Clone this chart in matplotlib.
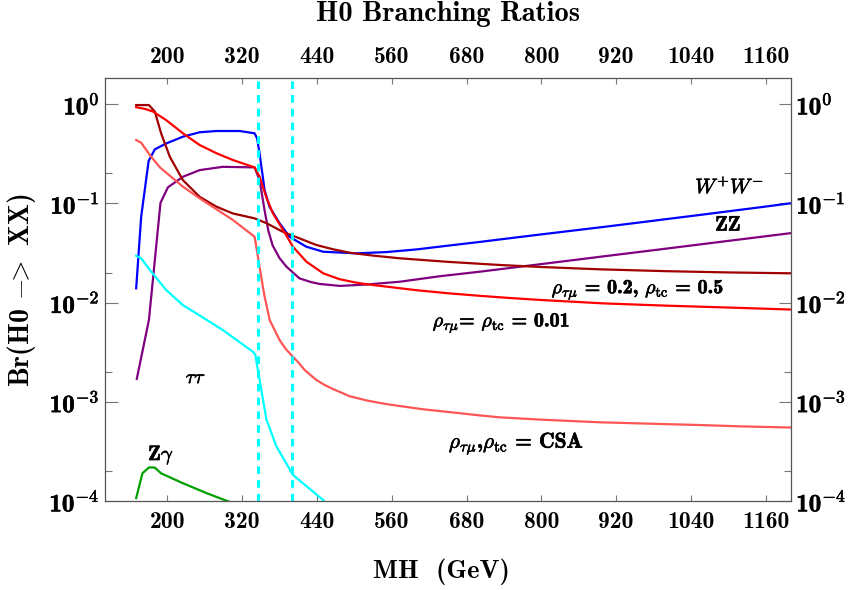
import math
import matplotlib
matplotlib.use("Agg")
import matplotlib.pyplot as plt
import matplotlib.patheffects as pe
from matplotlib.ticker import LogLocator, FixedLocator, FuncFormatter, NullFormatter

plt.rcParams['mathtext.fontset'] = 'cm'
plt.rcParams['font.family'] = ['cmb10', 'DejaVu Serif']
plt.rcParams['axes.unicode_minus'] = False

# H0 -> W+W-
ww_x = [150, 158, 170, 180, 198, 225, 252, 279, 316, 340, 344, 348, 356, 364, 380, 396,
        423, 450, 503, 550, 600, 650, 700, 750, 800, 850, 900, 950, 1000, 1050, 1100,
        1150, 1200]
ww_y = [0.0139, 0.073, 0.267, 0.35, 0.40, 0.469, 0.52, 0.535, 0.535, 0.507, 0.45, 0.318,
        0.136, 0.092, 0.063, 0.046, 0.0365, 0.0325, 0.0313, 0.0322, 0.0343, 0.0374, 0.0407,
        0.0445, 0.0486, 0.0530, 0.0578, 0.0632, 0.0692, 0.0757, 0.0830, 0.0910, 0.100]

# H0 -> ZZ
zz_x = [151, 170.5, 189, 201, 225, 252, 289, 340, 348, 356, 362, 369, 380, 391, 412,
        430, 444, 477, 520, 573, 637, 700, 800, 900, 1000, 1100, 1200]
zz_y = [0.0017, 0.0067, 0.101, 0.145, 0.185, 0.216, 0.233, 0.230, 0.171, 0.085, 0.053,
        0.0375, 0.028, 0.023, 0.0175, 0.0161, 0.0154, 0.0147, 0.0152, 0.0162, 0.0184,
        0.0204, 0.0244, 0.0292, 0.0349, 0.0418, 0.050]

# total width for rho_tau_mu = 0.2, rho_tc = 0.5 and 0.01
rho1_x = [150, 165, 177, 198, 225, 252, 279, 305, 340, 348, 359, 369.5, 385.5, 401.5,
          423, 450, 476, 500, 519, 550, 600, 650, 700, 750, 800, 900, 1000, 1100, 1200]
rho1_y = [0.93, 0.89, 0.84, 0.69, 0.507, 0.386, 0.319, 0.273, 0.230, 0.185, 0.114, 0.079,
          0.054, 0.0365, 0.0258, 0.0197, 0.0172, 0.0160, 0.0153, 0.0145, 0.0133, 0.0124,
          0.0117, 0.0111, 0.0106, 0.0098, 0.0093, 0.0089, 0.0085]

rho2_x = [150, 170.5, 180, 190, 204, 225, 252, 279, 305, 340, 359, 385, 412, 439, 465,
          492, 530, 573, 650, 733, 800, 894, 1000, 1100, 1200]
rho2_y = [0.977, 0.977, 0.837, 0.507, 0.294, 0.171, 0.116, 0.0923, 0.079, 0.0705, 0.063,
          0.0517, 0.0443, 0.038, 0.0345, 0.0318, 0.0297, 0.0279, 0.0257, 0.0239, 0.0228,
          0.0216, 0.0207, 0.0201, 0.0197]

# couplings from the CSA
csa_x = [150, 158, 172, 188, 225, 252, 305, 340, 348, 352, 356, 359, 364, 372, 380, 390,
         401.5, 410, 420, 430, 439, 452, 465, 480, 492, 520, 550, 573, 610, 650, 700, 733,
         800, 894, 1000, 1054, 1120, 1200]
csa_y = [0.434, 0.408, 0.306, 0.23, 0.147, 0.112, 0.068, 0.046, 0.023, 0.016, 0.0115,
         0.0095, 0.0067, 0.0053, 0.0042, 0.0034, 0.00284, 0.0025, 0.0021, 0.00185, 0.00166,
         0.00148, 0.00135, 0.00123, 0.00114, 0.00103, 0.00095, 0.000906, 0.00084, 0.00079,
         0.00073, 0.000697, 0.00066, 0.000621, 0.000595, 0.000583, 0.000565, 0.00055]

# H0 -> tau tau
tt_x = [150, 158, 172, 198, 225, 252, 289, 337, 341, 348, 359, 375, 401.5, 434, 450, 470]
tt_y = [0.0296, 0.0279, 0.0213, 0.0134, 0.0094, 0.0074, 0.00528, 0.0032, 0.0030, 0.00166,
        0.00066, 0.000355, 0.000183, 0.000124, 0.000102, 0.000078]

# H0 -> Z gamma
zg_x = [150, 160, 170.5, 180, 190, 225, 263, 296, 320]
zg_y = [0.000107, 0.00019, 0.000218, 0.000217, 0.00019, 0.000151, 0.00012, 0.0001, 0.000088]

thresholds = [346, 400]
xticks = [200, 320, 440, 560, 680, 800, 920, 1040, 1160]

bold = [pe.withStroke(linewidth=0.45, foreground='black')]

fig = plt.figure(figsize=(8.51, 5.90), dpi=100)
ax = fig.add_axes([105 / 851, 1 - 501 / 590, 685.7 / 851, 423 / 590])

lw = 1.6
ax.plot(ww_x, ww_y, color='#0000ff', lw=lw)
ax.plot(zz_x, zz_y, color='#800080', lw=lw)
ax.plot(rho2_x, rho2_y, color='#a00000', lw=lw)
ax.plot(rho1_x, rho1_y, color='#ff0000', lw=lw)
ax.plot(csa_x, csa_y, color='#ff5555', lw=lw)
ax.plot(tt_x, tt_y, color='#00ffff', lw=lw)
ax.plot(zg_x, zg_y, color='#00a000', lw=lw)
for t in thresholds:
    ax.axvline(t, color='#00ffff', lw=2.2, ls=(0, (2.5, 2.0)))

ax.set_yscale('log')
ax.set_xlim(100, 1200)
ax.set_ylim(1e-4, 1.83)

ax.xaxis.set_major_locator(FixedLocator(xticks))
ax.yaxis.set_major_locator(LogLocator(base=10, numticks=10))
ax.yaxis.set_minor_locator(LogLocator(base=10, subs=[2.0], numticks=10))
ax.yaxis.set_minor_formatter(NullFormatter())
ax.yaxis.set_major_formatter(FuncFormatter(lambda v, p: '10$^{%d}$' % round(math.log10(v))))

ax.tick_params(axis='x', which='major', direction='in', length=4, width=0.8, color='#777777',
               top=True, labeltop=True, labelsize=17, pad=7)
ax.tick_params(axis='y', which='major', direction='in', length=9, width=0.8, color='#777777',
               right=True, labelright=True, labelsize=18, pad=4)
ax.tick_params(axis='y', which='minor', direction='in', length=5, width=0.8, color='#777777',
               right=True)
for tk in ax.yaxis.get_major_ticks():
    tk.label1.set_path_effects(bold)
    tk.label2.set_path_effects(bold)
for s in ax.spines.values():
    s.set_color('#555555')
    s.set_linewidth(0.9)

fig.text(448 / 851, 1 - 14 / 590, 'H0 Branching Ratios', ha='center', va='center', fontsize=20.5)
fig.text(441 / 851, 1 - 572 / 590, 'MH  (GeV)', ha='center', va='center', fontsize=19)
fig.text(22 / 851, 1 - 290 / 590, r'Br(H0 $\mathbf{-\!\!>}$ XX)', ha='center', va='center',
         rotation=90, fontsize=20)

labels = [
    (1102, 0.147, r'$W^{+}W^{-}$', 15),
    (1099, 0.0604, 'ZZ', 15),
    (955, 0.0134, r'$\rho_{\tau\mu}$ = 0.2, $\rho_{\rm tc}$ = 0.5', 14.5),
    (736, 0.0062, r'$\rho_{\tau\mu}$= $\rho_{\rm tc}$ = 0.01', 14.5),
    (760, 0.00038, r'$\rho_{\tau\mu}$,$\rho_{\rm tc}$ = CSA', 15.5),
    (246, 0.00173, r'$\tau\tau$', 14),
    (190, 0.00029, r'Z$\gamma$', 15),
]
for x, y, s, fs in labels:
    ax.text(x, y, s, ha='center', va='center', fontsize=fs, path_effects=bold)

fig.savefig('out.png', dpi=100)
